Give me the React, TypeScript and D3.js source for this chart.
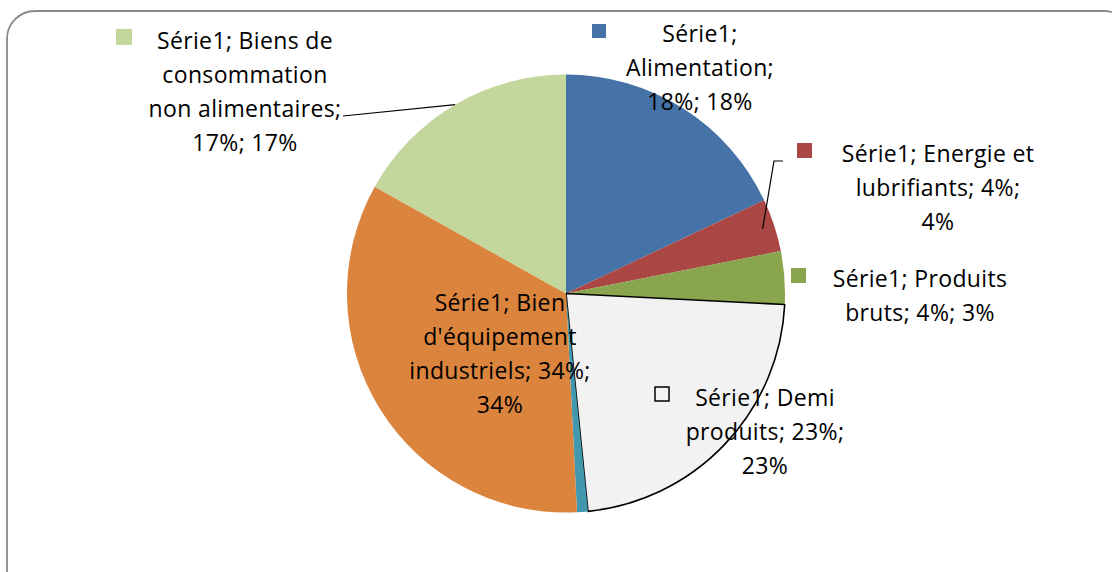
import React from "react";
import * as d3 from "d3";

const categories = [
  "Alimentation",
  "Energie et lubrifiants",
  "Produits bruts",
  "Demi produits",
  "Autres",
  "Bien d'équipement industriels",
  "Biens de consommation non alimentaires",
];
const values = [18.0, 3.9, 3.9, 22.6, 0.8, 33.9, 16.9];
const colors = ["#4572A7", "#AA4643", "#89A54E", "#F2F2F2", "#4198AF", "#DB843D", "#C3D69B"];
const labelLines: (string[] | null)[] = [
  ["Série1;", "Alimentation;", "18%; 18%"],
  ["Série1; Energie et", "lubrifiants; 4%;", "4%"],
  ["Série1; Produits", "bruts; 4%; 3%"],
  ["Série1; Demi", "produits; 23%;", "23%"],
  null,
  ["Série1; Bien", "d'équipement", "industriels; 34%;", "34%"],
  ["Série1; Biens de", "consommation", "non alimentaires;", "17%; 17%"],
];

// layout (label anchors: centre x, first line y, marker x, marker y)
const layout = [
  { cx: 700, y: 33, mx: 592, my: 24, ms: 14 },
  { cx: 938, y: 153, mx: 797, my: 143, ms: 15 },
  { cx: 920, y: 278, mx: 791, my: 268, ms: 15 },
  { cx: 765, y: 397, mx: 655, my: 387, ms: 14 },
  null,
  { cx: 500, y: 302, mx: -1, my: -1, ms: 0 },
  { cx: 245, y: 40, mx: 116, my: 29, ms: 16 },
];

const W = 1112;
const H = 572;
const CX = 566;
const CY = 293.5;
const R = 219;
const LH = 34;
const FONT = "'Open Sans', Lato, sans-serif";

export default function App() {
  const pie = d3.pie<number>().sort(null).value((d) => d)(values);
  const arc = d3.arc<d3.PieArcDatum<number>>().innerRadius(0).outerRadius(R);
  const pt = (a: number, r: number) => [CX + r * Math.sin(a), CY - r * Math.cos(a)];

  const redMid = (pie[1].startAngle + pie[1].endAngle) / 2;
  const redEnd = pt(redMid, R * 0.945);
  const greenMid = (pie[6].startAngle + pie[6].endAngle) / 2;
  const lgEnd = pt(greenMid, R);

  return (
    <svg width={W} height={H} style={{ position: "absolute", left: 0, top: 0, background: "#fff" }}>
      <rect x={7} y={11} width={1125} height={590} rx={28} ry={28} fill="#fff" stroke="#8a8a8a" strokeWidth={1.8} />
      <g transform={`translate(${CX},${CY})`}>
        {pie.map((d, i) => (
          <path
            key={i}
            d={arc(d) || ""}
            fill={colors[i]}
            stroke={i === 3 ? "#000" : "none"}
            strokeWidth={i === 3 ? 1.6 : 0}
            strokeLinejoin="round"
          />
        ))}
      </g>
      {/* leader lines */}
      <polyline
        points={`783,161 774,161 ${redEnd[0]},${redEnd[1]}`}
        fill="none"
        stroke="#000"
        strokeWidth={1.2}
      />
      <polyline points={`343,116 ${lgEnd[0]},${lgEnd[1]}`} fill="none" stroke="#000" strokeWidth={1.2} />
      {labelLines.map((lines, i) => {
        const L = layout[i];
        if (!lines || !L) return null;
        return (
          <g key={i}>
            {L.ms > 0 && (
              <rect
                x={L.mx}
                y={L.my}
                width={L.ms}
                height={L.ms}
                fill={colors[i]}
                stroke={i === 3 ? "#000" : "none"}
                strokeWidth={i === 3 ? 1.5 : 0}
              />
            )}
            <text fontFamily={FONT} fontSize={23} letterSpacing={0.35} fill="#000" textAnchor="middle">
              {lines.map((t, j) => (
                <tspan key={j} x={L.cx} y={L.y + j * LH} dominantBaseline="central">
                  {t}
                </tspan>
              ))}
            </text>
          </g>
        );
      })}
    </svg>
  );
}
